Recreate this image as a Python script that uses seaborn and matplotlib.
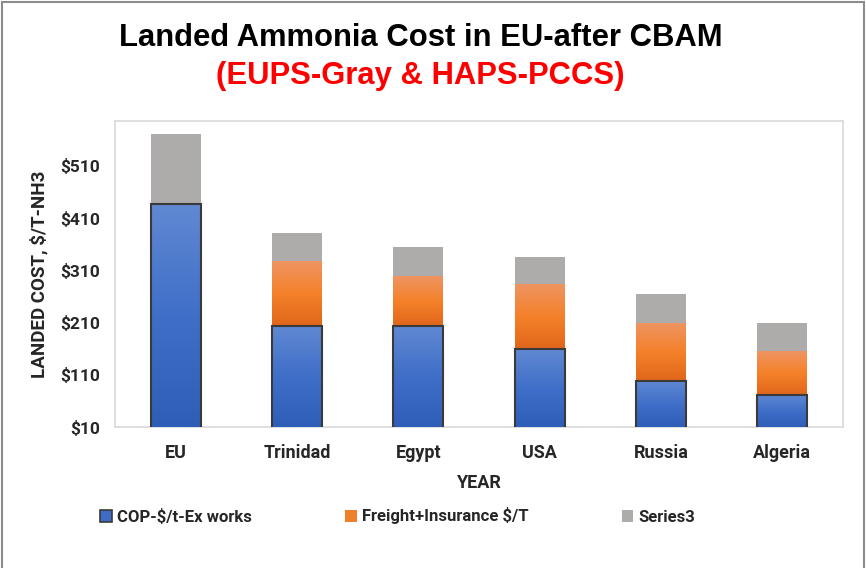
import numpy as np
import pandas as pd
import matplotlib
matplotlib.use("Agg")
import matplotlib.pyplot as plt
import seaborn as sns
from matplotlib.patches import Rectangle, Patch
from matplotlib.colors import LinearSegmentedColormap

# data
countries = ["EU", "Trinidad", "Egypt", "USA", "Russia", "Algeria"]
cop_ex_works = [438, 204, 204, 159, 99, 72]
freight_ins = [0, 123, 95, 124, 111, 84]
series3 = [134, 54, 55, 53, 54, 54]
series_names = ["COP-$/t-Ex works", "Freight+Insurance $/T", "Series3"]
y_ticks = [10, 110, 210, 310, 410, 510]

df = pd.DataFrame({"country": countries, "cop": cop_ex_works,
                   "freight": freight_ins, "s3": series3})
df["bottom2"] = df["cop"]
df["bottom3"] = df["cop"] + df["freight"]

sns.set_style("white")
label_font = ["Roboto", "DejaVu Sans"]
plt.rcParams["font.family"] = label_font

fig = plt.figure(figsize=(8.66, 5.68), dpi=100)
ax = fig.add_axes([115/866, 1-427/568, (843-115)/866, (427-121)/568])

bw = 0.41
sns.barplot(data=df, x="country", y="cop", order=countries, color="#3E6CC6",
            width=bw, edgecolor="#3a3a3a", linewidth=1.5, ax=ax, zorder=3)
n1 = len(ax.patches)
sns.barplot(data=df, x="country", y="freight", order=countries, color="#F07F2C",
            width=bw, bottom=df["bottom2"], linewidth=0, ax=ax, zorder=2)
n2 = len(ax.patches)
sns.barplot(data=df, x="country", y="s3", order=countries, color="#AEABAB",
            width=bw, bottom=df["bottom3"], linewidth=0, ax=ax, zorder=2)

# vertical gradients like the original
blue_cmap = LinearSegmentedColormap.from_list("b", ["#2E5EB8", "#3F6FC8", "#6189D3"])
orange_cmap = LinearSegmentedColormap.from_list("o", ["#E0661A", "#F5812A", "#EE9462"])
grad = np.linspace(0, 1, 256).reshape(-1, 1)
for i, p in enumerate(ax.patches[:n2]):
    if p.get_height() <= 0:
        continue
    cmap = blue_cmap if i < n1 else orange_cmap
    x0, y0 = p.get_x(), p.get_y()
    x1, y1 = x0 + p.get_width(), y0 + p.get_height()
    im = ax.imshow(grad, cmap=cmap, origin="lower", aspect="auto",
                   extent=[x0, x1, max(y0, 10), y1], zorder=p.get_zorder() - 0.1)
    im.set_clip_path(p)
    p.set_facecolor("none")

ax.set_xlim(-0.5, 5.5)
ax.set_ylim(10, 596)
ax.set_yticks(y_ticks)
ax.set_yticklabels([f"${v}" for v in y_ticks], fontsize=12.5, fontweight="bold")
ax.set_xticks(range(len(countries)))
ax.set_xticklabels(countries, fontsize=13, fontweight="bold")
ax.tick_params(axis="y", length=0, pad=11)
ax.tick_params(axis="x", length=0, pad=12)
ax.set_xlabel("")
ax.set_ylabel("LANDED COST, $/T-NH3", fontsize=13.5, fontweight="bold")
ax.yaxis.set_label_coords(-(115-48)/728, 0.5)
for s in ax.spines.values():
    s.set_color("#D9D9D9")
    s.set_linewidth(1.2)

fig.text(479/866, 1-483/568, "YEAR", ha="center", va="center",
         fontsize=13, fontweight="bold")

title_font = ["Liberation Sans", "DejaVu Sans"]
fig.text(421/866, 1-38/568, "Landed Ammonia Cost in EU-after CBAM", ha="center",
         va="center", fontsize=22.3, fontweight="bold", family=title_font, color="black")
fig.text(420/866, 1-76/568, "(EUPS-Gray & HAPS-PCCS)", ha="center",
         va="center", fontsize=22.3, fontweight="bold", family=title_font, color="#FF0000")

handles = [Patch(facecolor="#3E6CC6", edgecolor="#3a3a3a", linewidth=1.2),
           Patch(facecolor="#F07F2C", edgecolor="none"),
           Patch(facecolor="#AEABAB", edgecolor="none")]
fig.legend(handles, series_names, loc="center left", bbox_to_anchor=(85/866, 1-516/568),
           ncol=3, frameon=False, prop={"weight": "bold", "size": 12},
           handlelength=0.7, handleheight=0.7, handletextpad=0.3, columnspacing=5.6)

fig.patches.append(Rectangle((2/866, -0.01), 862/866, 1-2/568+0.01, transform=fig.transFigure,
                             fill=False, edgecolor="#8C8C8C", linewidth=1.5))

fig.savefig("out.png", dpi=100)
